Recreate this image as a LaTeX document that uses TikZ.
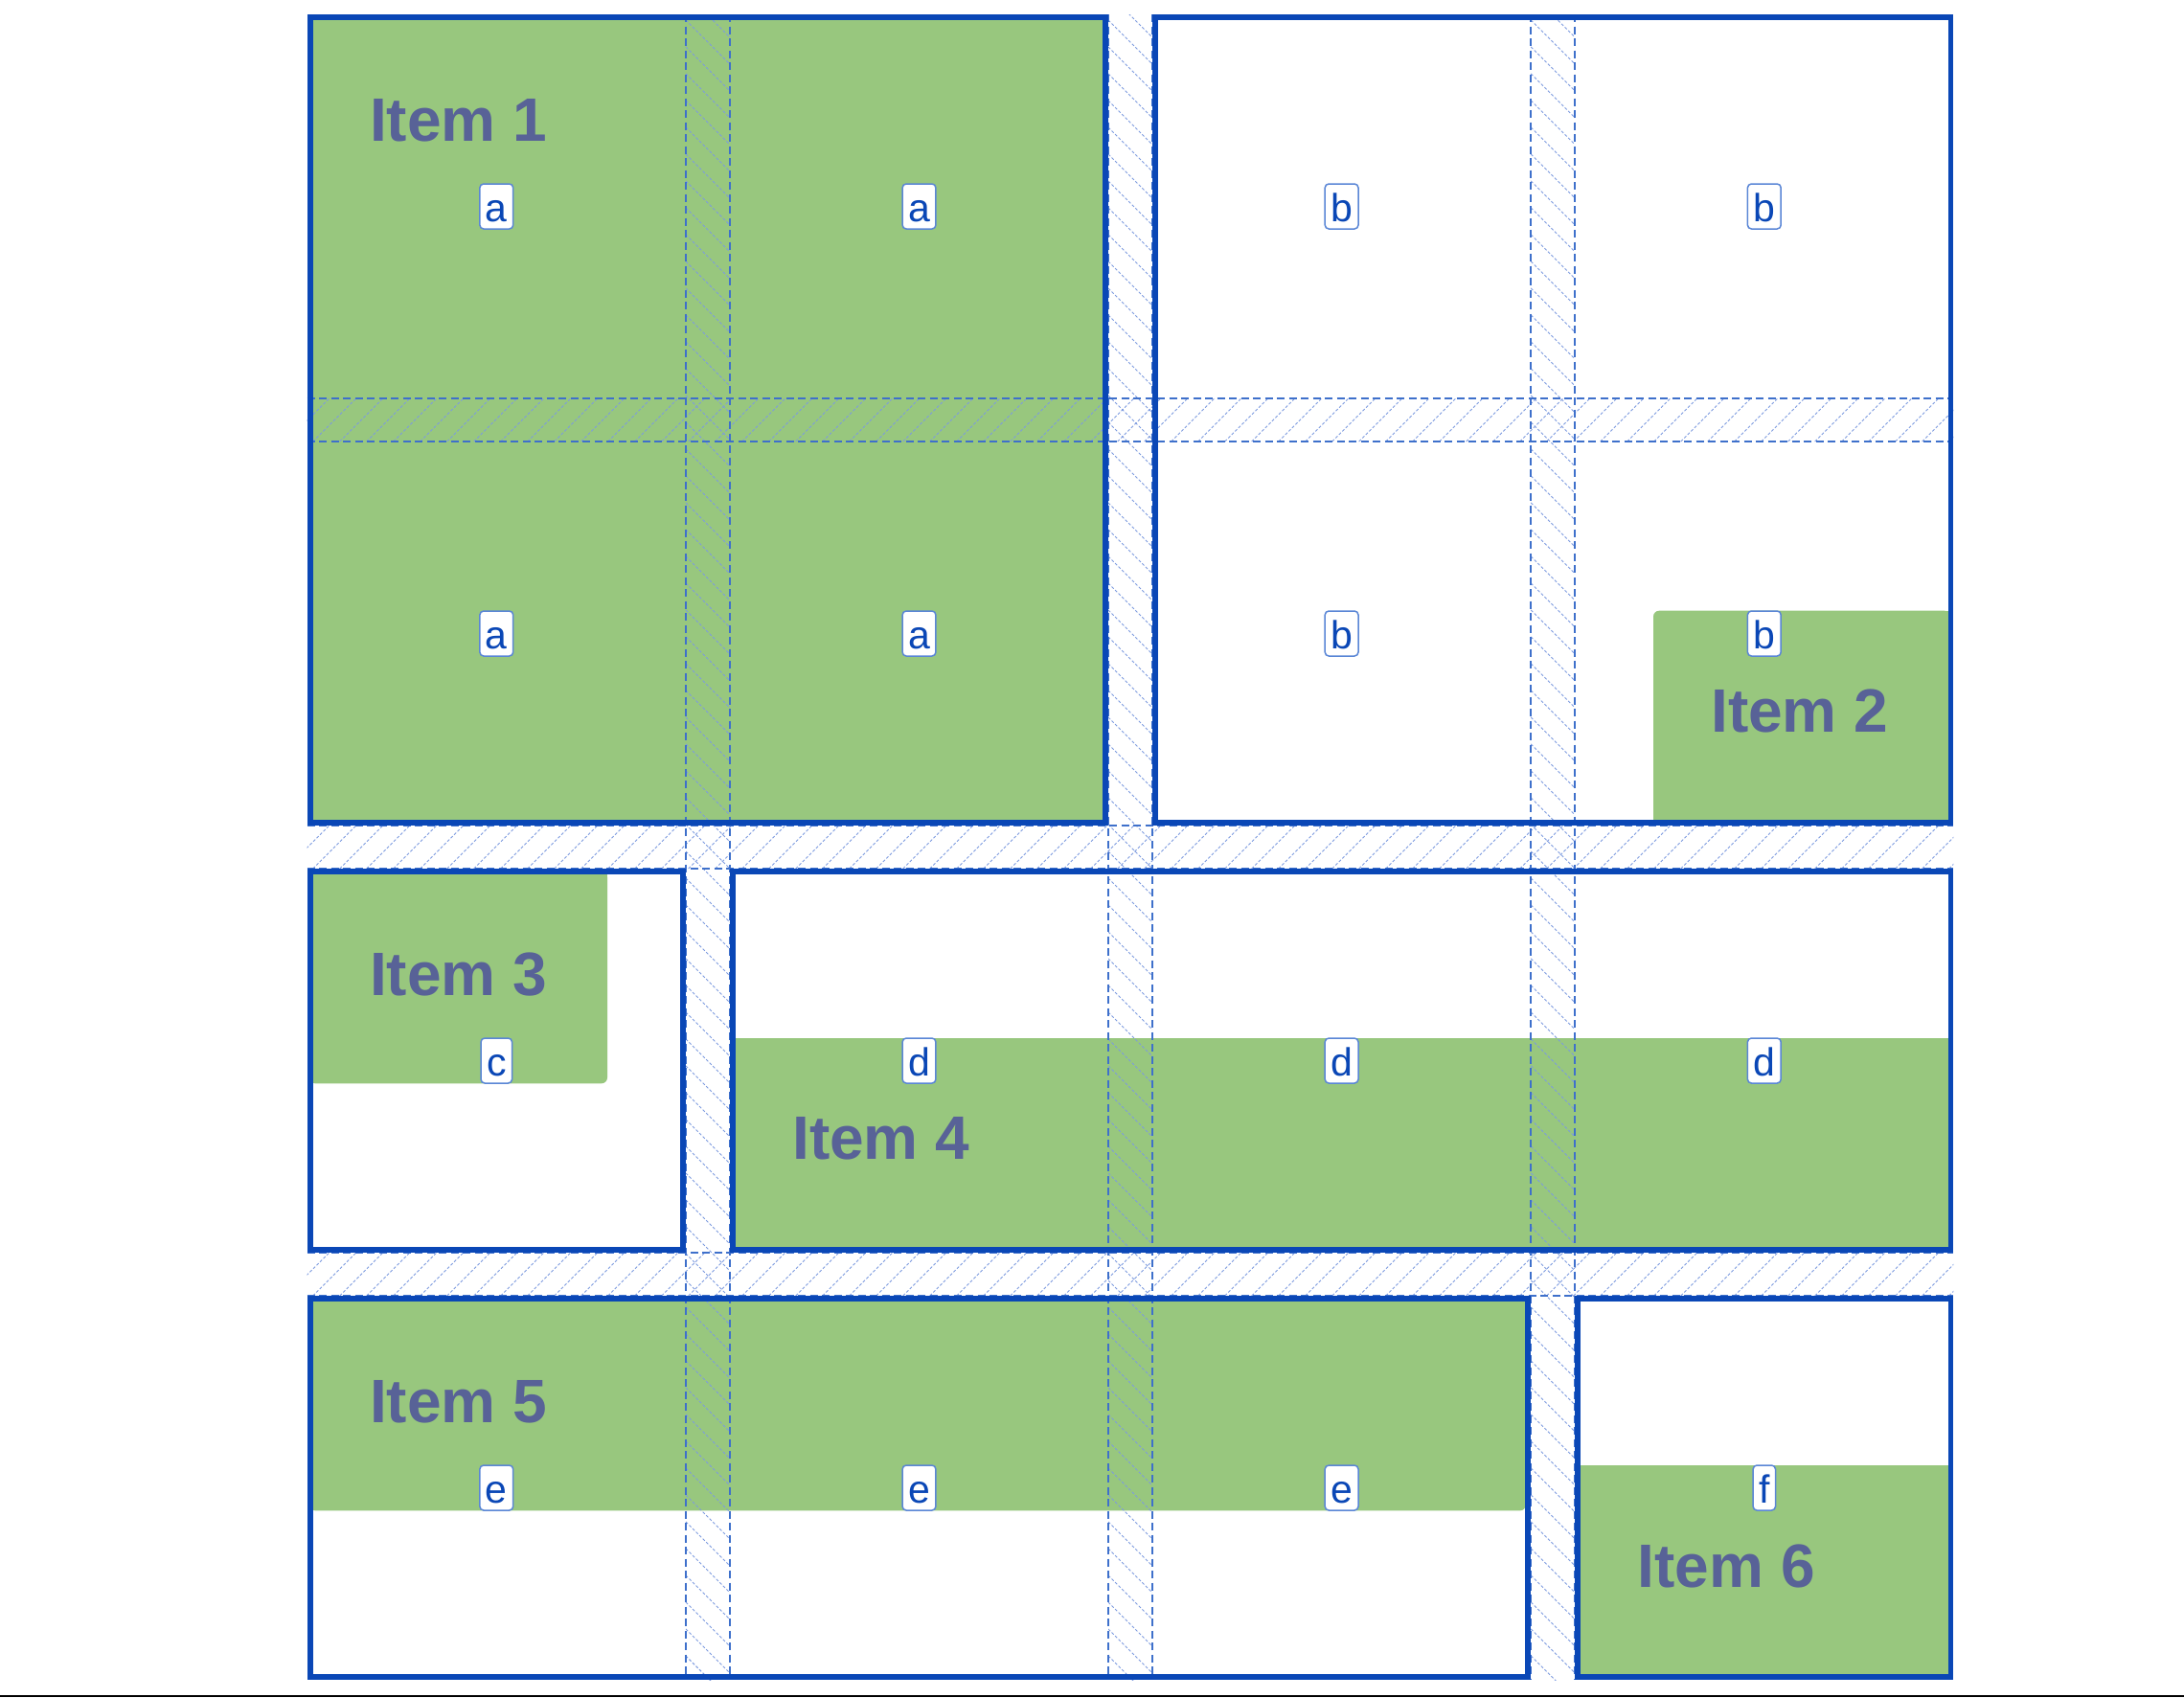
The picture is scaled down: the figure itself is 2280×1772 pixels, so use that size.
\documentclass[tikz,border=0pt]{standalone}
\usepackage{fontspec}
\setmainfont{Liberation Sans}
\definecolor{itemgreen}{HTML}{98C77E}
\definecolor{gridblue}{HTML}{0A47B6}
\definecolor{dashblue}{HTML}{3E70CB}
\definecolor{hatchblue}{HTML}{7D9BDF}
\definecolor{itemtext}{HTML}{586297}
\definecolor{labelborder}{HTML}{5A86D6}
\tikzset{
  areaborder/.style={draw=gridblue, line width=5.8pt},
  greenfill/.style={fill=itemgreen},
  gridline/.style={draw=dashblue, line width=2pt, dash pattern=on 8pt off 4.5pt},
  hatchline/.style={draw=hatchblue, line width=0.9pt, dash pattern=on 3pt off 2pt},
  celllabel/.style={draw=labelborder, line width=1.5pt, fill=white, rounded corners=4pt,
    text=gridblue, font=\fontsize{41}{47}\selectfont, inner xsep=6pt, inner ysep=0pt,
    text height=39.4pt, text depth=7.6pt},
  itemlabel/.style={text=itemtext, font=\bfseries\fontsize{64}{70}\selectfont,
    inner sep=0pt, anchor=base west},
}
\begin{document}
\begin{tikzpicture}[x=1pt,y=-1pt]
\useasboundingbox (0,0) rectangle (2280,1772);
\fill[white] (0,0) rectangle (2280,1772);
% track edges
\def\XA{320.7}\def\XB{715.9}\def\XC{761.9}\def\XD{1157}
\def\XE{1203}\def\XF{1598.2}\def\XG{1644.2}\def\XH{2039.3}
\def\YA{15}\def\YB{416}\def\YC{461}\def\YD{862}
\def\YE{907}\def\YF{1308}\def\YG{1353}\def\YH{1754}
% ---- green items ----
% Item 1
\fill[greenfill] (\XA,\YA) rectangle (\XD,\YD);
% Item 2 (top-left rounded)
\fill[greenfill, rounded corners=6pt] (1726,637.7) rectangle (2036,859);
\fill[greenfill] (1740,637.7) rectangle (2036,859);
\fill[greenfill] (1726,650) rectangle (2036,859);
% Item 3 (bottom-right rounded)
\fill[greenfill, rounded corners=6pt] (323,910) rectangle (634,1131.3);
\fill[greenfill] (323,910) rectangle (620,1131.3);
\fill[greenfill] (323,910) rectangle (634,1118);
% Item 4
\fill[greenfill] (764,1083.7) rectangle (2036,1305);
% Item 5 (bottom-right rounded)
\fill[greenfill, rounded corners=6pt] (323,1356) rectangle (1592.9,1577.3);
\fill[greenfill] (323,1356) rectangle (1579,1577.3);
\fill[greenfill] (323,1356) rectangle (1592.9,1564);
% Item 6
\fill[greenfill] (1647,1529.7) rectangle (2036,1751);
% ---- hatching of the gaps ----
\foreach \ya/\yb in {\YB/\YC, \YD/\YE, \YF/\YG}{
  \begin{scope}
    \clip (\XA,\ya) rectangle (\XH,\yb);
    \foreach \k in {0,...,64}
      \draw[hatchline] ({\XA-50+28*\k},\yb) -- ++(46,-46);
  \end{scope}
}
\foreach \xa/\xb in {\XB/\XC, \XD/\XE, \XF/\XG}{
  \begin{scope}
    \clip (\xa,\YA) rectangle (\xb,\YH);
    \foreach \k in {0,...,65}
      \draw[hatchline] (\xa,{\YA-50+28*\k}) -- ++(46,46);
  \end{scope}
}
% ---- dashed track lines ----
\foreach \gx in {\XB,\XC,\XD,\XE,\XF,\XG}
  \draw[gridline] (\gx,\YA) -- (\gx,\YH);
\foreach \gy in {\YB,\YC,\YD,\YE,\YF,\YG}
  \draw[gridline] (\XA,\gy) -- (\XH,\gy);
% ---- area borders ----
\draw[areaborder] ({\XA+2.9},{\YA+2.9}) rectangle ({\XD-2.9},{\YD-2.9});
\draw[areaborder] ({\XE+2.9},{\YA+2.9}) rectangle ({\XH-2.9},{\YD-2.9});
\draw[areaborder] ({\XA+2.9},{\YE+2.9}) rectangle ({\XB-2.9},{\YF-2.9});
\draw[areaborder] ({\XC+2.9},{\YE+2.9}) rectangle ({\XH-2.9},{\YF-2.9});
\draw[areaborder] ({\XA+2.9},{\YG+2.9}) rectangle ({\XF-2.9},{\YH-2.9});
\draw[areaborder] ({\XG+2.9},{\YG+2.9}) rectangle ({\XH-2.9},{\YH-2.9});
% ---- cell labels ----
\def\CA{518.3}\def\CB{959.5}\def\CC{1400.6}\def\CD{1841.8}
\def\RA{215.5}\def\RB{661.5}\def\RC{1107.5}\def\RD{1553.5}
\node[celllabel] (l11) at (\CA,\RA) {a};
\node[celllabel] (l12) at (\CB,\RA) {a};
\node[celllabel] (l13) at (\CC,\RA) {b};
\node[celllabel] (l14) at (\CD,\RA) {b};
\node[celllabel] (l21) at (\CA,\RB) {a};
\node[celllabel] (l22) at (\CB,\RB) {a};
\node[celllabel] (l23) at (\CC,\RB) {b};
\node[celllabel] (l24) at (\CD,\RB) {b};
\node[celllabel] (l31) at (\CA,\RC) {c};
\node[celllabel] (l32) at (\CB,\RC) {d};
\node[celllabel] (l33) at (\CC,\RC) {d};
\node[celllabel] (l34) at (\CD,\RC) {d};
\node[celllabel] (l41) at (\CA,\RD) {e};
\node[celllabel] (l42) at (\CB,\RD) {e};
\node[celllabel] (l43) at (\CC,\RD) {e};
\node[celllabel] (l44) at (\CD,\RD) {f};
% ---- item texts ----
\node[itemlabel] (t1) at (386,147) {Item 1};
\node[itemlabel] (t2) at (1786,764.5) {Item 2};
\node[itemlabel] (t3) at (386,1039) {Item 3};
\node[itemlabel] (t4) at (827,1210.5) {Item 4};
\node[itemlabel] (t5) at (386,1485) {Item 5};
\node[itemlabel] (t6) at (1709.5,1657) {Item 6};
% ---- bottom rule ----
\coordinate (ruleL) at (0,1770.8);
\coordinate (ruleR) at (2280,1770.8);
\draw[black, line width=1.5pt] (ruleL) -- (ruleR);
\end{tikzpicture}
\end{document}
